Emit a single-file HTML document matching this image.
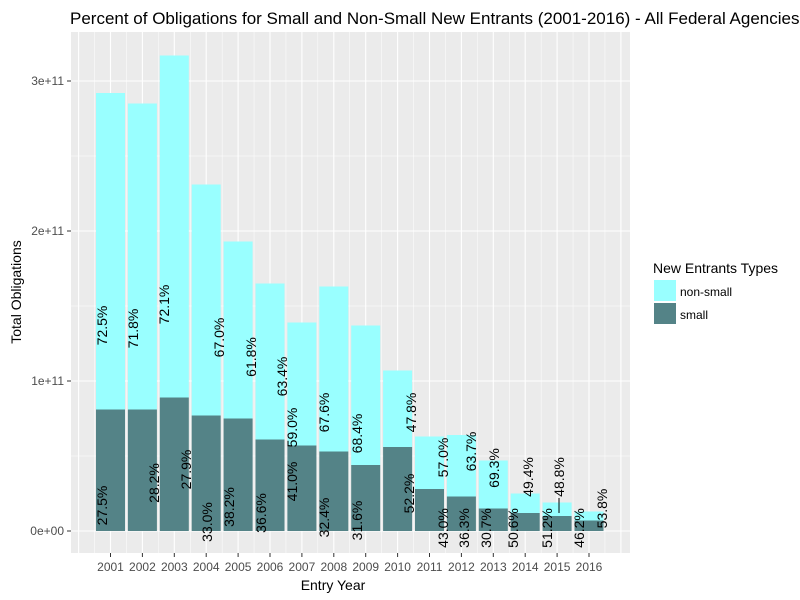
<!DOCTYPE html>
<html><head><meta charset="utf-8"><style>
body{margin:0;background:#fff;overflow:hidden;}
svg{display:block;font-family:"Liberation Sans",Arial,sans-serif;}
</style></head><body>
<svg id="chart" width="800" height="600" xmlns="http://www.w3.org/2000/svg">
<rect x="71" y="32" width="559" height="521" fill="#ebebeb"/>
<g id="grid"></g><g id="bars"></g><g id="labels"></g><g id="axes"></g>
<text x="70" y="24" font-size="17" fill="#000">Percent of Obligations for Small and Non-Small New Entrants (2001-2016) - All Federal Agencies</text>
<text x="333" y="590" font-size="14" text-anchor="middle" fill="#000">Entry Year</text>
<text transform="translate(21,292) rotate(-90)" font-size="14" text-anchor="middle" fill="#000">Total Obligations</text>
<g>
<text x="653" y="273" font-size="14" fill="#000">New Entrants Types</text>
<rect x="654" y="280" width="22" height="21" fill="#99ffff"/>
<text x="680" y="296" font-size="12" fill="#000">non-small</text>
<rect x="654" y="303" width="22" height="21" fill="#548387"/>
<text x="680" y="319" font-size="12" fill="#000">small</text>
</g>
</svg>
<script>
const years=["2001","2002","2003","2004","2005","2006","2007","2008","2009","2010","2011","2012","2013","2014","2015","2016"];
const totalVals=[2.92,2.85,3.17,2.31,1.93,1.65,1.39,1.63,1.37,1.07,0.63,0.64,0.47,0.25,0.19,0.13];
const smallVals=[0.81,0.81,0.89,0.77,0.75,0.61,0.57,0.53,0.44,0.56,0.28,0.23,0.15,0.12,0.10,0.07];
const nsPct=["72.5%","71.8%","72.1%","67.0%","61.8%","63.4%","59.0%","67.6%","68.4%","47.8%","57.0%","63.7%","69.3%","49.4%","48.8%","53.8%"];
const sPct=["27.5%","28.2%","27.9%","33.0%","38.2%","36.6%","41.0%","32.4%","31.6%","52.2%","43.0%","36.3%","30.7%","50.6%","51.2%","46.2%"];
const nsLabelY=[1.37,1.35,1.51,1.29,1.16,1.03,0.69,0.79,0.65,0.79,0.49,0.53,0.42,0.36,0.36,0.15];
const sLabelY=[0.17,0.32,0.41,0.06,0.16,0.12,0.33,0.09,0.07,0.25,0.02,0.02,0.02,0.02,0.02,0.02];
const nsJitter=[-0.27,-0.29,-0.32,0.40,0.40,0.38,-0.31,-0.31,-0.27,0.42,0.42,0.30,0.02,0.09,0.06,0.41];
const sJitter=[-0.27,0.36,0.37,0.03,-0.29,-0.28,-0.31,-0.31,-0.27,0.36,0.42,0.08,-0.23,-0.38,-0.32,-0.31];
const yTicks=[0,1,2,3];
const yTickLabels=["0e+00","1e+11","2e+11","3e+11"];
const NS="http://www.w3.org/2000/svg";
const X0=110.5,STEP=31.9,BW=29;
const xs=i=>X0+STEP*i;
const ys=v=>531-150*v;
function mk(tag,attrs,parent,txt){const e=document.createElementNS(NS,tag);for(const k in attrs)e.setAttribute(k,attrs[k]);if(txt!==undefined)e.textContent=txt;document.getElementById(parent).appendChild(e);return e;}
for(let v=-0.5;v<=3.5;v+=0.5){const y=ys(v);if(y<32||y>553)continue;const major=Math.abs(v-Math.round(v))<1e-9;
const l=mk('line',{x1:71,x2:630,y1:y,y2:y,stroke:'#fff','stroke-width':major?1.1:0.5},'grid');

}
for(let k=-2;k<=35;k++){const x=X0+k*STEP/2;if(x<71||x>630)continue;const major=k%2===0;
const l=mk('line',{x1:x,x2:x,y1:32,y2:553,stroke:'#fff','stroke-width':major?1.1:0.5},'grid');

}
years.forEach((yr,i)=>{const x=xs(i)-BW/2;
const b1=mk('rect',{x:x,y:ys(totalVals[i]),width:BW,height:ys(smallVals[i])-ys(totalVals[i]),fill:'#99ffff'},'bars');


const b2=mk('rect',{x:x,y:ys(smallVals[i]),width:BW,height:ys(0)-ys(smallVals[i]),fill:'#548387'},'bars');


const cx1=xs(i+nsJitter[i]),cy1=ys(nsLabelY[i]);
const t1=mk('text',{transform:`translate(${cx1+5},${cy1}) rotate(-90)`,'font-size':14,'text-anchor':'middle',fill:'#000'},'labels',nsPct[i]);


const cx2=xs(i+sJitter[i]),cy2=ys(sLabelY[i]);
const t2=mk('text',{transform:`translate(${cx2+5},${cy2}) rotate(-90)`,'font-size':14,'text-anchor':'middle',fill:'#000'},'labels',sPct[i]);


const tk=mk('line',{x1:xs(i),x2:xs(i),y1:553,y2:557,stroke:'#333','stroke-width':1},'axes');


const tl=mk('text',{x:xs(i),y:571,'font-size':12,'text-anchor':'middle',fill:'#4d4d4d'},'axes',yr);


});
const ld=mk('line',{x1:xs(14+nsJitter[14]),x2:xs(14+nsJitter[14]),y1:ys(0.22),y2:ys(0.12),stroke:'#000','stroke-width':1},'labels');


yTicks.forEach((v,i)=>{const y=ys(v);
const tk=mk('line',{x1:67,x2:71,y1:y,y2:y,stroke:'#333','stroke-width':1},'axes');


const tl=mk('text',{x:64,y:y+4,'font-size':12,'text-anchor':'end',fill:'#4d4d4d'},'axes',yTickLabels[i]);

});
</script>
</body></html>
